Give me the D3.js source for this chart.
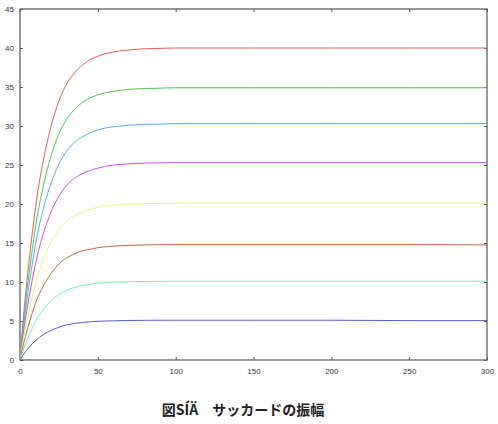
<!DOCTYPE html>
<html>
<head>
<meta charset="utf-8">
<script src="https://cdn.jsdelivr.net/npm/d3@7"></script>
<style>
  body { margin: 0; background: #fff; }
  svg { display: block; }
  .tick text { font-family: "Liberation Sans", Arial, sans-serif; font-size: 8px; fill: #333; }
</style>
</head>
<body>
<svg id="chart" width="498" height="424"></svg>
<script>
(function () {
  "use strict";

  const times = [0, 2, 5, 8, 10, 15, 20, 25, 30, 35, 40, 45, 50, 60, 70, 80, 90, 100, 150, 200, 250, 300];
  const amp40 = [0, 5.0, 11.2, 16.4, 19.6, 25.6, 30.0, 33.2, 35.4, 36.8, 37.8, 38.5, 38.95, 39.5, 39.75, 39.9, 39.95, 40, 40, 40, 40, 40];
  const amp35 = [0, 4.4, 9.8, 14.3, 17.1, 22.3, 26.2, 29.0, 30.9, 32.1, 33.0, 33.6, 34.0, 34.45, 34.7, 34.8, 34.85, 34.9, 34.9, 34.9, 34.9, 34.9];
  const amp30 = [0, 3.8, 8.5, 12.4, 14.8, 19.4, 22.7, 25.1, 26.8, 27.9, 28.6, 29.1, 29.5, 29.9, 30.1, 30.2, 30.25, 30.3, 30.3, 30.3, 30.3, 30.3];
  const amp25 = [0, 3.2, 7.1, 10.4, 12.4, 16.2, 19.0, 21.0, 22.4, 23.3, 23.9, 24.3, 24.6, 25.0, 25.15, 25.25, 25.28, 25.3, 25.3, 25.3, 25.3, 25.3];
  const amp20 = [0, 2.5, 5.6, 8.2, 9.8, 12.9, 15.1, 16.7, 17.8, 18.5, 19.0, 19.3, 19.6, 19.85, 20.0, 20.05, 20.08, 20.1, 20.1, 20.1, 20.1, 20.1];
  const amp15 = [0, 1.85, 4.1, 6.1, 7.3, 9.5, 11.1, 12.3, 13.1, 13.6, 14.0, 14.2, 14.4, 14.6, 14.7, 14.75, 14.78, 14.8, 14.8, 14.8, 14.8, 14.75];
  const amp10 = [0, 1.25, 2.8, 4.1, 4.95, 6.5, 7.6, 8.4, 8.95, 9.3, 9.55, 9.7, 9.85, 9.97, 10.03, 10.07, 10.09, 10.1, 10.1, 10.1, 10.1, 10.1];
  const amp5 = [0, 0.64, 1.43, 2.1, 2.5, 3.26, 3.8, 4.2, 4.5, 4.68, 4.8, 4.9, 4.96, 5.03, 5.07, 5.09, 5.1, 5.1, 5.1, 5.1, 5.05, 5.05];

  const series = [amp40, amp35, amp30, amp25, amp20, amp15, amp10, amp5];
  const colors = ["#ec5a5a", "#4cc84c", "#5aa8f0", "#c650ec", "#eaf478", "#c4683a", "#6cf2aa", "#5a5ad6"];
  const xTicks = [0, 50, 100, 150, 200, 250, 300];
  const yTicks = [0, 5, 10, 15, 20, 25, 30, 35, 40, 45];
  const caption = "図SÍÄ　サッカードの振幅";

  const left = 20, right = 487, top = 9, bottom = 360;
  const svg = d3.select("#chart");

  const x = d3.scaleLinear().domain([0, 300]).range([left, right]);
  const y = d3.scaleLinear().domain([0, 45]).range([bottom, top]);

  // axes, ticks pointing inward on all four sides
  const axisColor = "#555";
  const gx = svg.append("g").attr("transform", `translate(0,${bottom})`)
    .call(d3.axisBottom(x).tickValues(xTicks).tickSize(-3).tickPadding(8));
  const gy = svg.append("g").attr("transform", `translate(${left},0)`)
    .call(d3.axisLeft(y).tickValues(yTicks).tickSize(-3).tickPadding(6));
  const gt = svg.append("g").attr("transform", `translate(0,${top})`)
    .call(d3.axisTop(x).tickValues(xTicks).tickSize(-3).tickFormat(""));
  const gr = svg.append("g").attr("transform", `translate(${right},0)`)
    .call(d3.axisRight(y).tickValues(yTicks).tickSize(-3).tickFormat(""));
  [gx, gy, gt, gr].forEach((g) => {
    g.select(".domain").remove();
    g.selectAll(".tick line").attr("stroke", axisColor);
  });

  svg.append("rect")
    .attr("x", left).attr("y", top)
    .attr("width", right - left).attr("height", bottom - top)
    .attr("fill", "none").attr("stroke", axisColor).attr("stroke-width", 1.2);

  const line = d3.line()
    .x((d, i) => x(times[i]))
    .y((d) => y(d))
    .curve(d3.curveMonotoneX);

  svg.append("g").selectAll("path")
    .data(series)
    .enter()
    .append("path")
    .attr("d", line)
    .attr("fill", "none")
    .attr("stroke", (d, i) => colors[i])
    .attr("stroke-width", 1);

  svg.append("text")
    .attr("x", 243).attr("y", 415)
    .attr("text-anchor", "middle")
    .attr("font-family", "'Noto Sans CJK JP', sans-serif")
    .attr("font-size", 14)
    .attr("font-weight", "bold")
    .attr("fill", "#222")
    .text(caption);
})();
</script>
</body>
</html>
